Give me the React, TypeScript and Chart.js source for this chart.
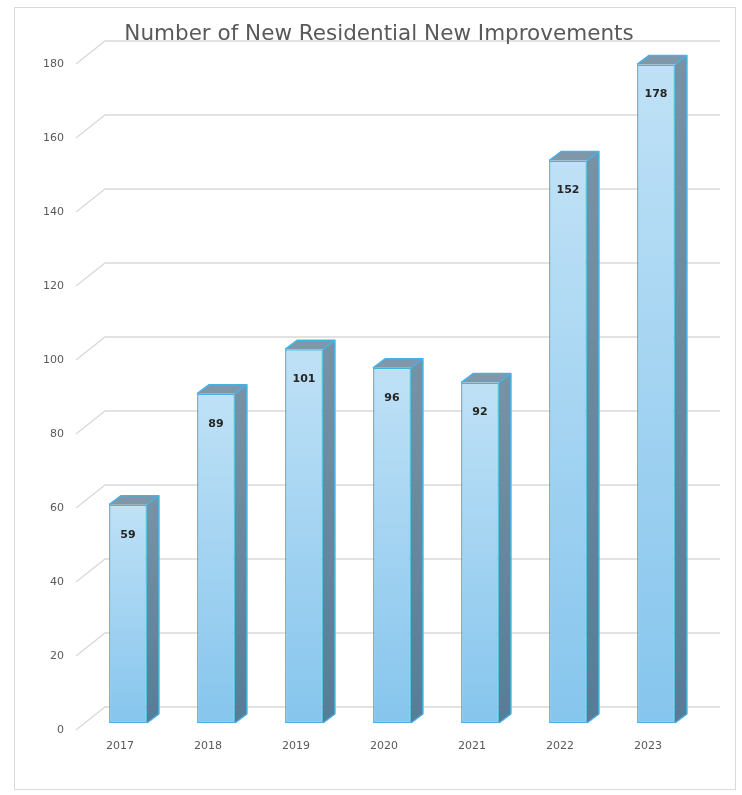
import React, { useEffect, useRef } from "react";
import { Chart, registerables } from "chart.js";

Chart.register(...registerables);

// Data
const years = ["2017", "2018", "2019", "2020", "2021", "2022", "2023"];
const improvements = [59, 89, 101, 96, 92, 152, 178];
const yTicks = [0, 20, 40, 60, 80, 100, 120, 140, 160, 180];
const chartTitle = "Number of New Residential New Improvements";

// 3D geometry (pixels)
const BAR_DX = 12;
const BAR_DY = 9;
const WALL_DX = 29;
const WALL_DY = 23;
const FLOOR_OFF = 7; // floor front edge sits below bar front
const FONT = "'DejaVu Sans', sans-serif";

const boxPlugin = {
  id: "box3d",
  beforeDatasetsDraw(chart: any) {
    const ctx = chart.ctx;
    const y = chart.scales.y;
    const area = chart.chartArea;
    ctx.save();
    ctx.strokeStyle = "#d9d9d9";
    ctx.lineWidth = 1.3;
    for (const v of yTicks) {
      const py = y.getPixelForValue(v);
      const fx = area.left - 8;
      const fy = py + FLOOR_OFF;
      const bx = fx + WALL_DX;
      const by = fy - WALL_DY;
      ctx.beginPath();
      ctx.moveTo(fx, fy);
      ctx.lineTo(bx, by);
      ctx.lineTo(720, by);
      ctx.stroke();
    }
    ctx.restore();
  },
  afterDatasetsDraw(chart: any) {
    const ctx = chart.ctx;
    const meta = chart.getDatasetMeta(0);
    ctx.save();
    meta.data.forEach((bar: any, i: number) => {
      const { x, y, base, width } = bar.getProps(["x", "y", "base", "width"], true);
      const l = x - width / 2;
      const r = x + width / 2;
      // side face
      const sg = ctx.createLinearGradient(0, y, 0, base);
      sg.addColorStop(0, "#7593a8");
      sg.addColorStop(1, "#547d97");
      ctx.fillStyle = sg;
      ctx.beginPath();
      ctx.moveTo(r, y);
      ctx.lineTo(r + BAR_DX, y - BAR_DY);
      ctx.lineTo(r + BAR_DX, base - BAR_DY);
      ctx.lineTo(r, base);
      ctx.closePath();
      ctx.fill();
      // top face
      ctx.fillStyle = "#7f97a9";
      ctx.beginPath();
      ctx.moveTo(l, y);
      ctx.lineTo(l + BAR_DX, y - BAR_DY);
      ctx.lineTo(r + BAR_DX, y - BAR_DY);
      ctx.lineTo(r, y);
      ctx.closePath();
      ctx.fill();
      // edges
      ctx.strokeStyle = "#45b2e6";
      ctx.lineWidth = 1.5;
      ctx.lineJoin = "round";
      ctx.beginPath();
      ctx.moveTo(l, y);
      ctx.lineTo(l + BAR_DX, y - BAR_DY);
      ctx.lineTo(r + BAR_DX, y - BAR_DY);
      ctx.lineTo(r + BAR_DX, base - BAR_DY);
      ctx.lineTo(r, base);
      ctx.moveTo(r, y);
      ctx.lineTo(r + BAR_DX, y - BAR_DY);
      ctx.stroke();
      // value label
      ctx.fillStyle = "#262626";
      ctx.font = `bold 11px ${FONT}`;
      ctx.textAlign = "center";
      ctx.textBaseline = "middle";
      ctx.fillText(String(improvements[i]), x, y + 30);
    });
    ctx.restore();
  },
};

export default function App() {
  const ref = useRef<HTMLCanvasElement>(null);

  useEffect(() => {
    if (!ref.current) return;
    const chart = new Chart(ref.current, {
      type: "bar",
      data: {
        labels: years,
        datasets: [
          {
            data: improvements,
            backgroundColor: (c: any) => {
              const ch = c.chart;
              const ys = ch.scales && ch.scales.y;
              if (!ys || c.type !== "data" || !c.parsed) return "#9fd1f1";
              const top = ys.getPixelForValue(c.parsed.y);
              const bottom = ys.getPixelForValue(0);
              if (!isFinite(top) || !isFinite(bottom)) return "#9fd1f1";
              const g = ch.ctx.createLinearGradient(0, top, 0, bottom);
              g.addColorStop(0, "#bfe1f6");
              g.addColorStop(1, "#86c5ed");
              return g;
            },
            borderColor: "#45b2e6",
            borderWidth: 1.5,
            borderSkipped: false,
            categoryPercentage: 1,
            barPercentage: 0.43,
          },
        ],
      },
      options: {
        animation: false,
        responsive: false,
        maintainAspectRatio: false,
        layout: { padding: { top: 57, right: 42, bottom: 0, left: 0 } },
        plugins: {
          legend: { display: false },
          tooltip: { enabled: false },
          title: { display: false },
        },
        scales: {
          x: {
            afterFit: (s: any) => {
              s.height = 72;
            },
            grid: { display: false, drawTicks: false },
            border: { display: false },
            ticks: {
              color: "#595959",
              font: { family: FONT, size: 11 },
              padding: 17,
              labelOffset: -8,
            },
          },
          y: {
            min: 0,
            max: 180,
            afterFit: (s: any) => {
              s.width = 84;
            },
            grid: { display: false, drawTicks: false },
            border: { display: false },
            ticks: {
              stepSize: 20,
              color: "#595959",
              font: { family: FONT, size: 11 },
              padding: 20,
              labelOffset: 7,
            },
          },
        },
      },
      plugins: [boxPlugin],
    });
    return () => chart.destroy();
  }, []);

  return (
    <div style={{ position: "absolute", left: 0, top: 0, width: 742, height: 795, background: "#fff" }}>
      <div
        style={{
          position: "absolute",
          left: 14,
          top: 7,
          width: 722,
          height: 783,
          border: "1px solid #d9d9d9",
          boxSizing: "border-box",
        }}
      />
      <canvas ref={ref} width={742} height={795} style={{ position: "absolute", left: 0, top: 0 }} />
      <div
        style={{
          position: "absolute",
          left: 0,
          width: 758,
          top: 20,
          textAlign: "center",
          fontFamily: FONT,
          fontSize: 21.5,
          color: "#595959",
          whiteSpace: "nowrap",
        }}
      >
        {chartTitle}
      </div>
    </div>
  );
}
